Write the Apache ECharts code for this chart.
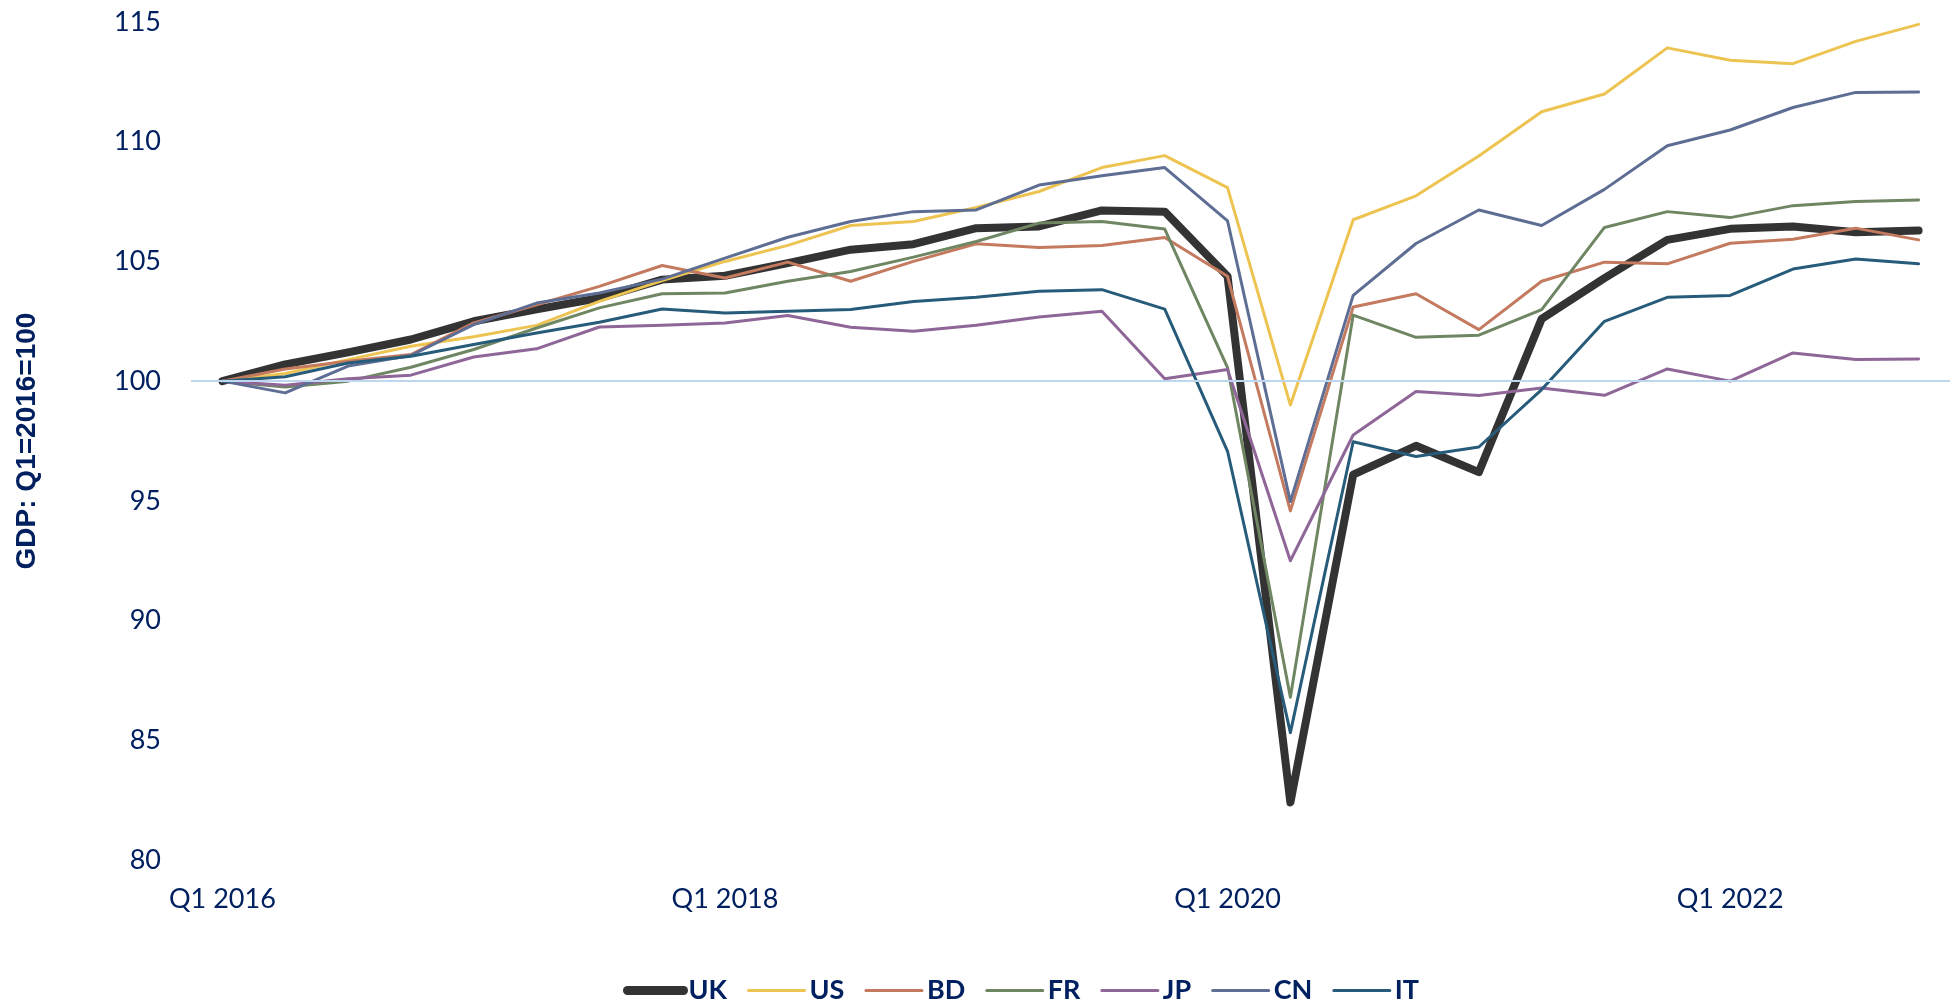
<!DOCTYPE html>
<html>
<head>
<meta charset="utf-8">
<title>GDP index, Q1 2016 = 100</title>
<script src="https://cdn.jsdelivr.net/npm/echarts@6/dist/echarts.min.js"></script>
<style>
  html, body { margin: 0; padding: 0; background: #ffffff; }
  #chart { width: 1952px; height: 1004px; }
</style>
</head>
<body>
<div id="chart"></div>
<script>
// Quarterly categories
const quarters = [
  'Q1 2016', 'Q2 2016', 'Q3 2016', 'Q4 2016',
  'Q1 2017', 'Q2 2017', 'Q3 2017', 'Q4 2017',
  'Q1 2018', 'Q2 2018', 'Q3 2018', 'Q4 2018',
  'Q1 2019', 'Q2 2019', 'Q3 2019', 'Q4 2019',
  'Q1 2020', 'Q2 2020', 'Q3 2020', 'Q4 2020',
  'Q1 2021', 'Q2 2021', 'Q3 2021', 'Q4 2021',
  'Q1 2022', 'Q2 2022', 'Q3 2022', 'Q4 2022'
];

// GDP index per country (Q1 2016 = 100)
const UK = [100, 100.7, 101.2, 101.74, 102.5, 103.0, 103.47, 104.24, 104.4, 104.93, 105.49, 105.72, 106.39, 106.46, 107.13, 107.08, 104.38, 82.4, 96.1, 97.3, 96.2, 102.6, 104.3, 105.9, 106.36, 106.46, 106.22, 106.29];
const US = [100, 100.32, 100.9, 101.46, 101.85, 102.33, 103.33, 104.2, 105.0, 105.67, 106.5, 106.67, 107.25, 107.92, 108.92, 109.42, 108.08, 99.0, 106.74, 107.74, 109.4, 111.25, 111.99, 113.92, 113.4, 113.26, 114.19, 114.9];
const BD = [100, 100.51, 100.83, 101.11, 102.43, 103.19, 103.96, 104.83, 104.31, 104.97, 104.17, 105.0, 105.74, 105.58, 105.67, 106.0, 104.38, 94.58, 103.1, 103.65, 102.15, 104.17, 104.97, 104.9, 105.76, 105.93, 106.39, 105.9];
const FR = [100, 99.76, 100.0, 100.58, 101.32, 102.22, 103.06, 103.65, 103.68, 104.17, 104.58, 105.18, 105.83, 106.6, 106.67, 106.35, 100.56, 86.8, 102.76, 101.83, 101.92, 102.99, 106.42, 107.08, 106.83, 107.33, 107.5, 107.57];
const JP = [100, 99.83, 100.1, 100.25, 101.01, 101.35, 102.26, 102.33, 102.43, 102.74, 102.25, 102.08, 102.33, 102.68, 102.92, 100.1, 100.49, 92.5, 97.75, 99.57, 99.4, 99.71, 99.41, 100.51, 100.0, 101.18, 100.9, 100.93];
const CN = [100, 99.51, 100.63, 101.07, 102.36, 103.26, 103.68, 104.26, 105.14, 106.01, 106.67, 107.08, 107.15, 108.19, 108.58, 108.92, 106.69, 94.97, 103.58, 105.75, 107.15, 106.5, 108.01, 109.83, 110.49, 111.43, 112.06, 112.08];
const IT = [100, 100.18, 100.76, 101.04, 101.53, 102.01, 102.46, 103.01, 102.85, 102.92, 102.99, 103.33, 103.5, 103.75, 103.82, 103.01, 97.07, 85.32, 97.47, 96.85, 97.25, 99.65, 102.5, 103.5, 103.58, 104.68, 105.1, 104.9];

// Y-axis range
const yMin = 80;
const yMax = 115;
const yStep = 5;
const baseline = 100;

const countries = [
  { name: 'UK', data: UK, color: '#333333', width: 8 },
  { name: 'US', data: US, color: '#EDC451', width: 3 },
  { name: 'BD', data: BD, color: '#C47A5E', width: 3 },
  { name: 'FR', data: FR, color: '#6F8663', width: 3 },
  { name: 'JP', data: JP, color: '#8F6698', width: 3 },
  { name: 'CN', data: CN, color: '#5E6D93', width: 3 },
  { name: 'IT', data: IT, color: '#275B7A', width: 3 }
];

const navy = '#002060';
const chart = echarts.init(document.getElementById('chart'), null, { renderer: 'canvas' });

const series = countries.map((c, idx) => {
  const s = {
    name: c.name,
    type: 'line',
    data: c.data,
    symbol: 'none',
    showSymbol: false,
    smooth: false,
    animation: false,
    color: c.color,
    lineStyle: { color: c.color, width: c.width, join: 'round', cap: 'round' },
    z: 3
  };
  if (idx === 0) {
    // horizontal reference line at the base value
    s.markLine = {
      silent: true,
      symbol: 'none',
      label: { show: false },
      animation: false,
      lineStyle: { color: '#BDD7EE', width: 2, type: 'solid' },
      data: [{ yAxis: baseline }]
    };
  }
  return s;
});

chart.setOption({
  backgroundColor: '#ffffff',
  animation: false,
  grid: { left: 191, right: 2, top: 22, bottom: 144, containLabel: false },
  legend: {
    left: 618,
    top: 972,
    itemWidth: 56,
    itemHeight: 14,
    itemGap: 20,
    textStyle: { color: navy, fontFamily: 'Lato', fontWeight: 'bold', fontSize: 27 },
    data: countries.map(c => ({
      name: c.name,
      lineStyle: { width: c.name === 'UK' ? 9 : 3, cap: 'round' },
      itemStyle: { opacity: 0 }
    }))
  },
  xAxis: {
    type: 'category',
    data: quarters,
    boundaryGap: true,
    axisLine: { show: false },
    axisTick: { show: false },
    splitLine: { show: false },
    axisLabel: {
      interval: 7,
      color: navy,
      fontFamily: 'Lato',
      fontSize: 27,
      margin: 26
    }
  },
  yAxis: {
    type: 'value',
    min: yMin,
    max: yMax,
    interval: yStep,
    name: 'GDP: Q1=2016=100',
    nameLocation: 'middle',
    nameGap: 150,
    nameRotate: 90,
    nameTextStyle: { color: navy, fontFamily: 'Liberation Sans', fontWeight: 'bold', fontSize: 28 },
    axisLine: { show: false },
    axisTick: { show: false },
    splitLine: { show: false },
    axisLabel: {
      color: navy,
      fontFamily: 'Lato',
      fontSize: 27,
      margin: 30
    }
  },
  series: series
});
</script>
</body>
</html>
